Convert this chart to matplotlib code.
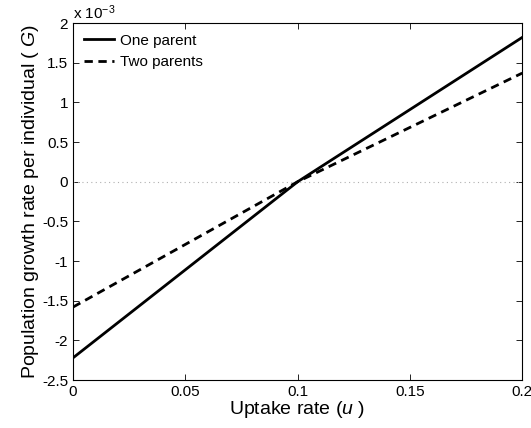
import matplotlib
matplotlib.use("Agg")

import matplotlib.pyplot as plt
import numpy as np

plt.rcParams['font.family'] = ['Liberation Sans', 'DejaVu Sans']
plt.rcParams['mathtext.fontset'] = 'custom'
plt.rcParams['mathtext.rm'] = 'Liberation Sans'
plt.rcParams['mathtext.it'] = 'Liberation Sans:italic'

# uptake rate and growth rate per individual
uptake = [0.0, 0.1, 0.2]
one_parent = [-2.22e-3, 0.0, 1.82e-3]
two_parents = [-1.58e-3, 0.0, 1.37e-3]

x_ticks = [0, 0.05, 0.1, 0.15, 0.2]
x_ticklabels = ["0", "0.05", "0.1", "0.15", "0.2"]
y_ticks = [-2.5, -2, -1.5, -1, -0.5, 0, 0.5, 1, 1.5, 2]
y_ticklabels = ["-2.5", "-2", "-1.5", "-1", "-0.5", "0", "0.5", "1", "1.5", "2"]
scale = 1e-3

fig = plt.figure(figsize=(5.31, 4.28), dpi=100)
ax = fig.add_axes([0.1375, 0.112, 0.846, 0.834])

ax.axhline(0, color="#b0b0b0", linestyle=(0, (1, 3)), linewidth=0.8)
ax.plot(uptake, np.array(one_parent) / scale, color="black", linewidth=2,
        label="One parent")
ax.plot(uptake, np.array(two_parents) / scale, color="black", linewidth=2,
        linestyle=(0, (3, 2)), label="Two parents")

ax.set_xlim(0, 0.2)
ax.set_ylim(-2.5, 2)
ax.set_xticks(x_ticks)
ax.set_xticklabels(x_ticklabels)
ax.set_yticks(y_ticks)
ax.set_yticklabels(y_ticklabels)
ax.tick_params(direction="in", top=True, right=True, labelsize=11, length=4,
               width=0.6)
for s in ax.spines.values():
    s.set_linewidth(0.8)

ax.text(0.0, 1.003, r"x 10$^{-3}$", transform=ax.transAxes, fontsize=11,
        ha="left", va="bottom")

ax.set_xlabel(r"Uptake rate ($u$ )", fontsize=14, labelpad=0)
ax.set_ylabel(r"Population growth rate per individual ( $G$)", fontsize=14,
              labelpad=1)

ax.legend(loc="upper left", frameon=False, fontsize=11, handlelength=2.0,
          borderaxespad=0.3, labelspacing=0.5, handletextpad=0.35)

plt.savefig("out.png", dpi=100)
plt.close()
